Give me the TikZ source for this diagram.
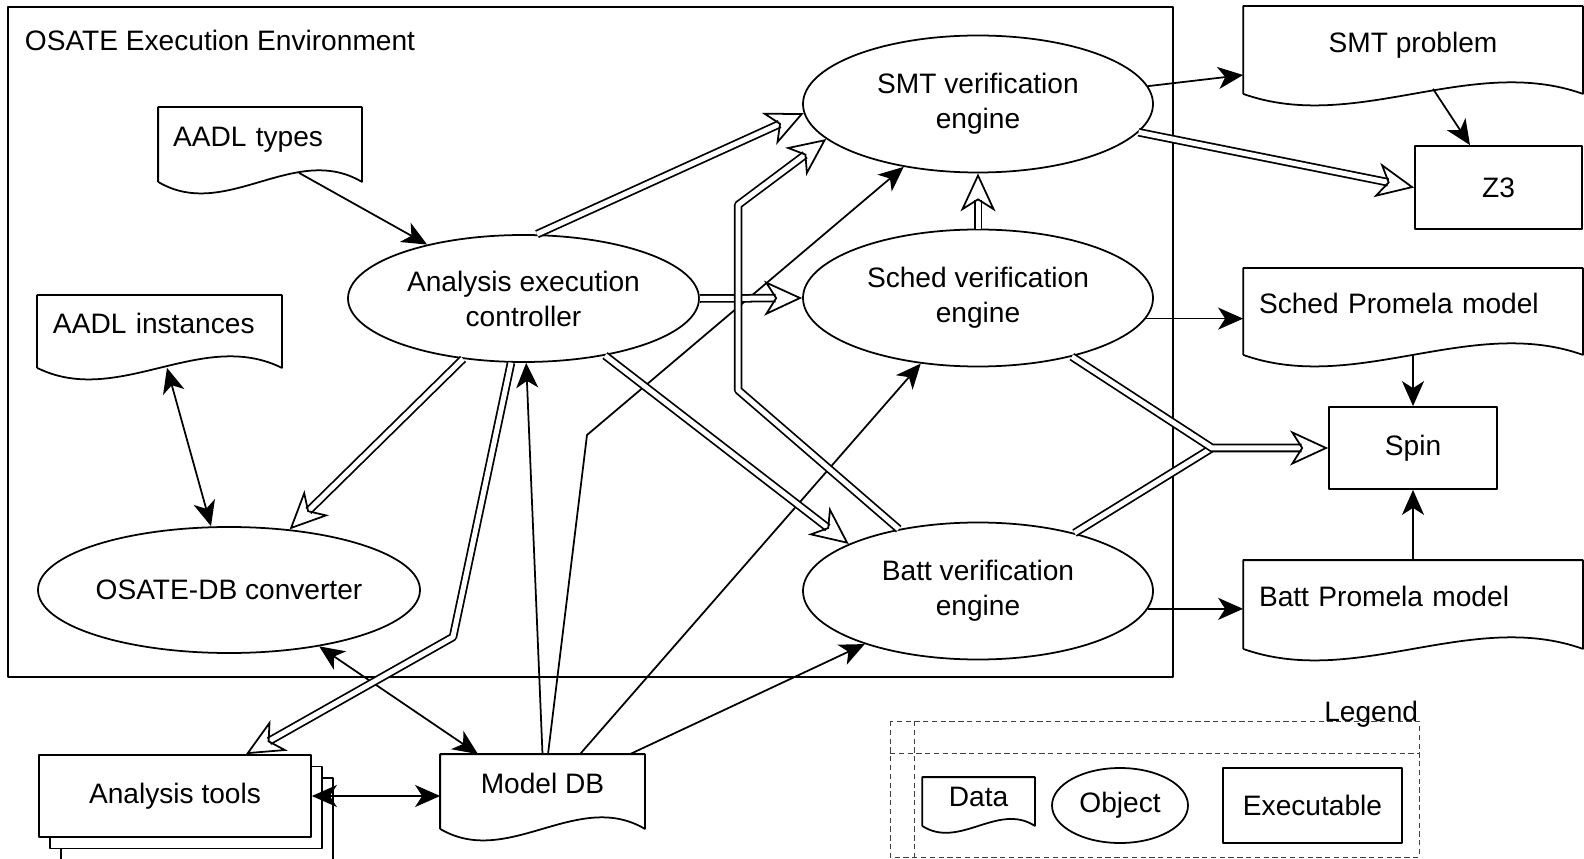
\documentclass[tikz,border=0pt]{standalone}
\usepackage{fontspec}
\setmainfont{Liberation Sans}
\usetikzlibrary{arrows.meta,calc,shapes.geometric,shadows}
\begin{document}
\begin{tikzpicture}[x=0.2mm, y=-0.2mm, line width=1pt, line join=round,
    font=\fontsize{16}{19.9}\selectfont,
    >={Stealth[length=5mm, width=4.4mm, inset=1.4mm]},
    obj/.style={ellipse, draw, inner sep=0pt, align=center},
    exe/.style={rectangle, draw, inner sep=0pt},
    datadoc/.style={rectangle, inner sep=0pt, text height=1ex, text depth=0.5ex,
      append after command={\pgfextra{\let\docnode\tikzlastnode
        \draw (\docnode.south west) -- (\docnode.north west) -- (\docnode.north east) -- (\docnode.south east)
          .. controls ($(\docnode.south east)!0.33!(\docnode.south west)+(0,-#1)$)
          and ($(\docnode.south east)!0.67!(\docnode.south west)+(0,#1)$) .. (\docnode.south west);}}},
    datadoc/.default=40,
    dbl/.style={double distance=1mm, -{Stealth[open, length=7.6mm, width=7mm, inset=2.2mm]}},
    legendline/.style={densely dashed, line width=0.5pt, draw=black!75}]
  \useasboundingbox (0,0) rectangle (1584,859);
  % OSATE
  \draw (8,7) rectangle (1173,677);
  \node[anchor=base west, inner sep=0pt] (env) at (24,51) {OSATE Execution Environment};
  \node[datadoc, minimum width=40.4mm, minimum height=14.6mm, text width=34.8mm, align=left] (types) at (260,144.5) {AADL types};
  \node[datadoc, minimum width=48.6mm, minimum height=14.2mm, text width=42.6mm, align=left] (inst) at (159.5,331.5) {AADL instances};
  \node[obj, minimum width=70.2mm, minimum height=25.4mm] (ctrl) at (523.5,298.5) {Analysis execution\\controller};
  \node[obj, minimum width=76.4mm, minimum height=25.2mm] (conv) at (229,590) {OSATE-DB converter};
  \node[obj, minimum width=70mm, minimum height=27.4mm] (smt) at (978,104) {SMT verification\\engine};
  \node[obj, minimum width=70mm, minimum height=27.4mm] (sched) at (978,298) {Sched verification\\engine};
  \node[obj, minimum width=70mm, minimum height=27.4mm] (batt) at (978,591) {Batt verification\\engine};
  % outside
  \node[datadoc, minimum width=67.6mm, minimum height=17.2mm] (smtp) at (1413,50) {SMT problem};
  \node[datadoc, minimum width=67.6mm, minimum height=17mm, text width=61.6mm, align=left] (schedp) at (1413,311.5) {Sched Promela model};
  \node[datadoc, minimum width=67.6mm, minimum height=17.4mm, text width=61.6mm, align=left] (battp) at (1413,604.5) {Batt Promela model};
  \node[exe, minimum width=33.4mm, minimum height=16.6mm] (z3) at (1498.5,187.5) {Z3};
  \node[exe, minimum width=33.6mm, minimum height=16.4mm] (spin) at (1413,448) {Spin};
  \node[exe, fill=white, double copy shadow={shadow xshift=2.2mm, shadow yshift=-2.3mm},
    minimum width=54.4mm, minimum height=16.4mm] (tools) at (175,796) {Analysis tools};
  \node[datadoc, minimum width=40.6mm, minimum height=14.6mm] (mdb) at (542.5,791.5) {Model DB};
  % legend
  \draw[legendline] (890,721) rectangle (1419,857);
  \draw[legendline] (890,753) -- (1419,753) (914,721) -- (914,857);
  \node[anchor=base east, inner sep=0pt] (legend) at (1419,721) {Legend};
  \node[datadoc=24, minimum width=22.2mm, minimum height=9.4mm, text height=0.6em, text depth=0pt] (ldata) at (978.5,801.5) {Data};
  \node[obj, minimum width=27.2mm, minimum height=15mm] (lobj) at (1120,805.5) {Object};
  \node[exe, minimum width=35.8mm, minimum height=15mm] (lexe) at (1312.5,805.5) {Executable};
  % plain arrows
  \draw[->] ([xshift=7.8mm,yshift=1.8mm]types.south) -- (ctrl);
  \draw[<->] ([xshift=1.5mm]inst.south) -- ([xshift=-3.6mm]conv.north);
  \draw[<->] (conv.-32) -- ([xshift=-12.9mm]mdb.north);
  \draw[<->] (tools.east) -- (tools.east -| mdb.west);
  \draw[->] (mdb.north) -- (ctrl);
  \draw[->] ([xshift=1.1mm]mdb.north) -- (587,435) -- (smt);
  \draw[->] ([xshift=7.5mm]mdb.north) -- (sched);
  \draw[->] ([xshift=17.5mm]mdb.north) -- (batt);
  \draw[->] (smt.6) -- ([yshift=-5mm]smtp.west);
  \draw[->] ([xshift=4mm,yshift=1mm]smtp.south) -- ([xshift=-5.7mm]z3.north);
  \draw[->] (sched.-7) -- (sched.-7 -| schedp.west);
  \draw[->] (schedp.south) -- (spin.north);
  \draw[->] (batt.-6) -- (batt.-6 -| battp.west);
  \draw[->] (battp.north) -- (spin.south);
  % double arrows
  \draw[dbl] ([xshift=2.7mm]ctrl.north) -- (smt.183);
  \draw[dbl] (ctrl.east) -- (sched.west);
  \draw[dbl] (ctrl.-35) -- (batt.160);
  \draw[dbl] (ctrl.-135) -- (conv.45);
  \draw[dbl] (ctrl.-101) -- (453,637) -- ([xshift=14.2mm]tools.north);
  \draw[dbl] (batt.142) -- (738,390) -- (738,205) -- (smt.-167);
  \draw[dbl] (sched.north) -- (smt.south);
  \draw[dbl] (smt.-10) -- (z3.west);
  \coordinate (merge) at (1212,448);
  \draw[dbl, -] (batt.31) -- (merge);
  \draw[dbl] (sched.-32) -- (merge) -- (spin.west);
\end{tikzpicture}
\end{document}
